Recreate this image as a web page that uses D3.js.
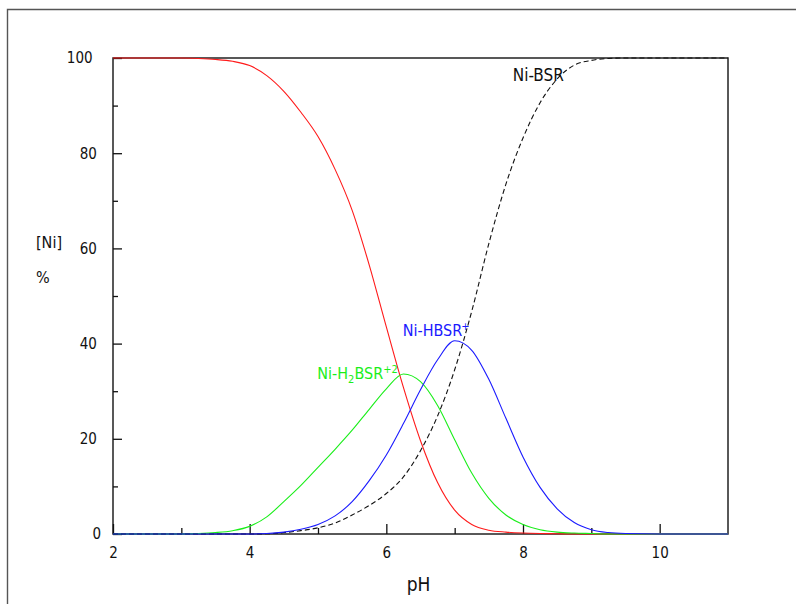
<!DOCTYPE html>
<html>
<head>
<meta charset="utf-8">
<script src="https://cdn.jsdelivr.net/npm/d3@7"></script>
<style>
  html, body { margin: 0; padding: 0; background: #fff; }
  svg { display: block; }
  text { font-family: "DejaVu Sans Condensed", "DejaVu Sans", sans-serif; }
</style>
</head>
<body>
<svg id="chart" width="796" height="604"></svg>
<script>
// Nickel speciation with BSR as a function of pH (% of total Ni)
const pH = [2, 2.5, 3, 3.25, 3.5, 3.75, 4, 4.25, 4.5, 4.75, 5, 5.25, 5.5, 5.75, 6, 6.25,
            6.5, 6.75, 7, 7.25, 7.5, 7.75, 8, 8.25, 8.5, 8.75, 9, 9.25, 9.5, 10, 10.5, 11];

const freeNi = [100, 100, 100, 99.9, 99.7, 99.3, 98.4, 96.3, 93.0, 88.6, 83.5, 76.6, 68.0, 56.5, 43.5, 30.8,
                19.6, 10.8, 5.0, 2.0, 0.8, 0.4, 0.2, 0.1, 0.05, 0, 0, 0, 0, 0, 0, 0];
const niH2BSR = [0, 0, 0, 0.1, 0.3, 0.7, 1.6, 3.6, 6.8, 10.2, 14.0, 17.8, 21.8, 26.2, 30.5, 33.6,
                 32.0, 27.0, 19.8, 12.8, 7.5, 4.0, 2.0, 0.9, 0.4, 0.2, 0.1, 0, 0, 0, 0, 0];
const niHBSR = [0, 0, 0, 0, 0, 0, 0, 0.1, 0.4, 1.0, 2.0, 3.8, 6.8, 11.2, 16.6, 23.2,
                30.3, 36.6, 40.6, 38.6, 32.5, 24.3, 16.2, 9.8, 5.3, 2.4, 0.9, 0.3, 0.1, 0, 0, 0];
const niBSR = [0, 0, 0, 0, 0, 0, 0, 0.05, 0.3, 0.7, 1.3, 2.3, 4.0, 6.0, 8.5, 12.0,
               17.5, 24.8, 34.5, 46.8, 61.0, 73.5, 83.2, 90.6, 95.6, 98.5, 99.5, 99.9, 100, 100, 100, 100];

const xMajor = [2, 4, 6, 8, 10];
const xMinor = [3, 5, 7, 9];
const yMajor = [0, 20, 40, 60, 80, 100];
const yMinor = [10, 30, 50, 70, 90];

const svg = d3.select("#chart");
const W = 796, H = 604;
const plotL = 113, plotR = 728, plotT = 58, plotB = 534;

svg.append("rect").attr("width", W).attr("height", H).attr("fill", "#fff");

// outer page frame
svg.append("path")
  .attr("d", `M7.5,${H} V9.5 H${W}`)
  .attr("fill", "none").attr("stroke", "#555").attr("stroke-width", 1.4);

const x = d3.scaleLinear().domain([2, 11]).range([plotL, plotR]);
const y = d3.scaleLinear().domain([0, 100]).range([plotB, plotT]);

// plot box
svg.append("rect")
  .attr("x", plotL).attr("y", plotT)
  .attr("width", plotR - plotL).attr("height", plotB - plotT)
  .attr("fill", "none").attr("stroke", "#222").attr("stroke-width", 1.5);

// x axis: major ticks with labels, minor ticks without
svg.append("g").attr("transform", `translate(0,${plotB})`)
  .call(d3.axisBottom(x).tickValues(xMajor).tickSizeInner(-10).tickSizeOuter(0).tickPadding(13)
        .tickFormat(d3.format("d")));
svg.append("g").attr("transform", `translate(0,${plotB})`)
  .call(d3.axisBottom(x).tickValues(xMinor).tickSizeInner(-6).tickSizeOuter(0).tickFormat(""));

// y axis
const gy = svg.append("g").attr("transform", `translate(${plotL},0)`)
  .call(d3.axisLeft(y).tickValues(yMajor).tickSizeInner(-9).tickSizeOuter(0).tickPadding(16)
        .tickFormat(d3.format("d")));
svg.append("g").attr("transform", `translate(${plotL},0)`)
  .call(d3.axisLeft(y).tickValues(yMinor).tickSizeInner(-5).tickSizeOuter(0).tickFormat(""));

svg.selectAll(".domain").remove();
svg.selectAll(".tick line").attr("stroke", "#111").attr("stroke-width", 1.3);
svg.selectAll(".tick text").attr("fill", "#111").attr("font-size", 15)
  .style("font-family", '"DejaVu Sans Condensed", "DejaVu Sans", sans-serif');

// y labels sit a little further out the shorter they are
gy.selectAll(".tick text").each(function () {
  const w = this.getComputedTextLength();
  d3.select(this).attr("x", -7.5 - 0.5 * w);
});

// axis titles
svg.append("text").attr("x", (plotL + plotR) / 2 - 2).attr("y", 591)
  .attr("text-anchor", "middle").attr("font-size", 19).attr("fill", "#111").text("pH");
svg.append("text").attr("x", 36).attr("y", 248)
  .attr("font-size", 16).attr("fill", "#111").text("[Ni]");
svg.append("text").attr("x", 36).attr("y", 283)
  .attr("font-size", 16).attr("fill", "#111").text("%");

// species curves
const line = vals => d3.line()
  .x((d, i) => x(pH[i]))
  .y(d => y(d))
  .curve(d3.curveMonotoneX)(vals);

svg.append("path").attr("d", line(freeNi))
  .attr("fill", "none").attr("stroke", "#ff1a1a").attr("stroke-width", 1.1);
svg.append("path").attr("d", line(niH2BSR))
  .attr("fill", "none").attr("stroke", "#1aee1a").attr("stroke-width", 1.1);
svg.append("path").attr("d", line(niBSR))
  .attr("fill", "none").attr("stroke", "#111").attr("stroke-width", 1.1)
  .attr("stroke-dasharray", "5,3");
svg.append("path").attr("d", line(niHBSR))
  .attr("fill", "none").attr("stroke", "#1a1aff").attr("stroke-width", 1.1);

// species labels
svg.append("text").attr("x", x(7.85)).attr("y", y(95.1))
  .attr("font-size", 17).attr("fill", "#111").text("Ni-BSR");

const tHB = svg.append("text").attr("x", x(6.24)).attr("y", y(41.7))
  .attr("font-size", 16).attr("fill", "#1a1aff");
tHB.append("tspan").text("Ni-HBSR");
tHB.append("tspan").attr("dy", -6).attr("dx", -1).attr("font-size", 11).text("+");

const tH2B = svg.append("text").attr("x", x(4.99)).attr("y", y(32.5))
  .attr("font-size", 16).attr("fill", "#1aee1a");
tH2B.append("tspan").text("Ni-H");
tH2B.append("tspan").attr("dy", 4).attr("font-size", 11).text("2");
tH2B.append("tspan").attr("dy", -4).text("BSR");
tH2B.append("tspan").attr("dy", -6).attr("font-size", 11).text("+2");
</script>
</body>
</html>
